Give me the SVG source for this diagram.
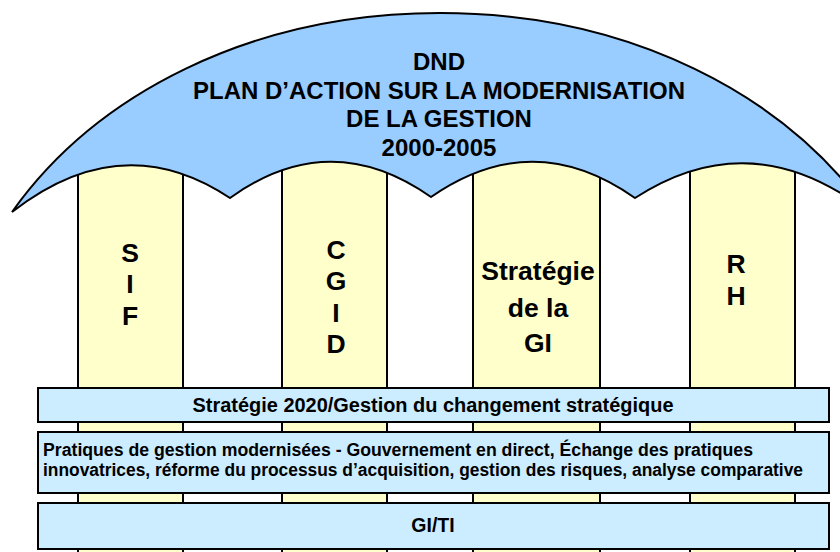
<svg xmlns="http://www.w3.org/2000/svg" width="840" height="552" viewBox="0 0 840 552">
  <style>
    .pillar { fill: #FFFFCC; stroke: #000; stroke-width: 2; }
    .canopy { fill: #99CCFF; stroke: #000; stroke-width: 2; stroke-linejoin: miter; }
    .band { fill: #CCECFF; stroke: #000; stroke-width: 2; }
    text { font-family: "Liberation Sans", Arial, sans-serif; font-weight: bold; fill: #000; }
    .title { font-size: 24px; text-anchor: middle; }
    .plabel { font-size: 26.5px; text-anchor: middle; }
    .blabel { font-size: 19.5px; text-anchor: middle; }
    .blabel-left { font-size: 17.5px; }
  </style>
  <rect width="840" height="552" fill="#FFFFFF"/>

  <!-- pillars (drawn first so the canopy caps them) -->
  <g id="pillar-sif">
    <rect class="pillar" x="78" y="150" width="105" height="420"/>
  </g>
  <g id="pillar-cgid">
    <rect class="pillar" x="282" y="150" width="105" height="420"/>
  </g>
  <g id="pillar-gi">
    <rect class="pillar" x="473" y="150" width="127" height="420"/>
  </g>
  <g id="pillar-rh">
    <rect class="pillar" x="690" y="150" width="105" height="420"/>
  </g>

  <!-- umbrella canopy -->
  <g id="canopy">
    <path class="canopy" d="M 12 212 C 95 95 250 13 440 13 C 630 13 785 95 868 212 Q 752 122 635 198 Q 533 126 431 197 Q 330 126 230 198 Q 122 126 12 212 Z"/>
    <text class="title" x="439" y="70">DND</text>
    <text class="title" x="439" y="99">PLAN D’ACTION SUR LA MODERNISATION</text>
    <text class="title" x="439" y="127">DE LA GESTION</text>
    <text class="title" x="439" y="156">2000-2005</text>
  </g>

  <!-- pillar labels -->
  <g id="label-sif">
    <text class="plabel" x="130" y="262">S</text>
    <text class="plabel" x="130" y="293">I</text>
    <text class="plabel" x="130" y="325">F</text>
  </g>
  <g id="label-cgid">
    <text class="plabel" x="336" y="259">C</text>
    <text class="plabel" x="336" y="290">G</text>
    <text class="plabel" x="336" y="322">I</text>
    <text class="plabel" x="336" y="353">D</text>
  </g>
  <g id="label-gi">
    <text class="plabel" x="538" y="280">Stratégie</text>
    <text class="plabel" x="538" y="317">de la</text>
    <text class="plabel" x="538" y="352">GI</text>
  </g>
  <g id="label-rh">
    <text class="plabel" x="736" y="273">R</text>
    <text class="plabel" x="736" y="305">H</text>
  </g>

  <!-- horizontal bands -->
  <g id="band-strategie">
    <rect class="band" x="38" y="388" width="791" height="34"/>
    <text class="blabel" x="433" y="412" textLength="481" lengthAdjust="spacingAndGlyphs">Stratégie 2020/Gestion du changement stratégique</text>
  </g>
  <g id="band-pratiques">
    <rect class="band" x="38" y="432" width="791" height="61"/>
    <text class="blabel-left" x="43" y="456" textLength="710" lengthAdjust="spacingAndGlyphs">Pratiques de gestion modernisées - Gouvernement en direct, Échange des pratiques</text>
    <text class="blabel-left" x="43" y="476" textLength="760" lengthAdjust="spacingAndGlyphs">innovatrices, réforme du processus d’acquisition, gestion des risques, analyse comparative</text>
  </g>
  <g id="band-giti">
    <rect class="band" x="38" y="503" width="791" height="46"/>
    <text class="blabel" x="433" y="532">GI/TI</text>
  </g>
</svg>
